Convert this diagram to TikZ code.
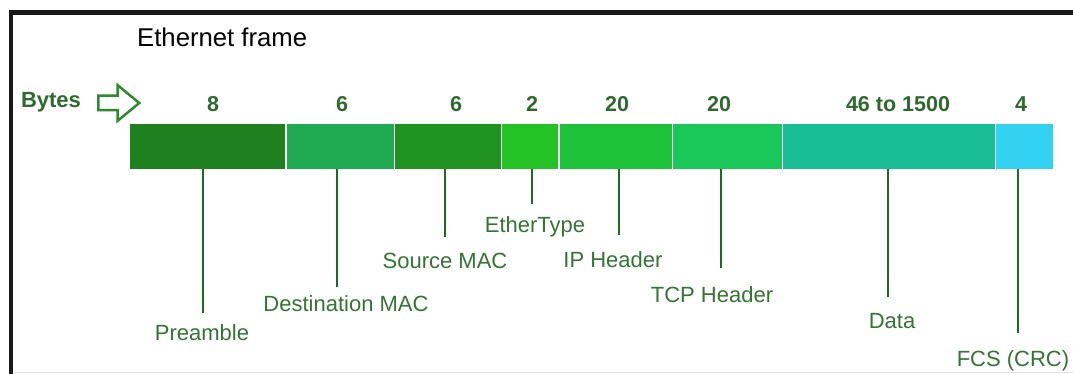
\documentclass[tikz,border=0pt]{standalone}
\usepackage{fontspec}
\setmainfont{Liberation Sans}
\usetikzlibrary{shapes.arrows}

\definecolor{cPre}{HTML}{1E801F}
\definecolor{cDmac}{HTML}{20AA52}
\definecolor{cSmac}{HTML}{1F921F}
\definecolor{cEtype}{HTML}{24C224}
\definecolor{cIp}{HTML}{1EC23A}
\definecolor{cTcp}{HTML}{1AC85A}
\definecolor{cData}{HTML}{1ABE96}
\definecolor{cFcs}{HTML}{34D2F2}
\definecolor{txtgreen}{HTML}{2E6A2E}
\definecolor{lblgreen}{HTML}{347434}
\definecolor{leadgreen}{HTML}{1E6A1E}
\definecolor{arrgreen}{HTML}{2F8A2F}

\tikzset{
  seg/.style={rectangle, draw=none, inner sep=0pt, anchor=north west, minimum height=44.5pt},
  bytenum/.style={anchor=base, inner sep=0pt, text=txtgreen, font=\fontsize{21.5}{24}\selectfont\bfseries},
  fieldlbl/.style={anchor=base, inner sep=0pt, text=lblgreen, font=\fontsize{22}{25}\selectfont},
  lead/.style={draw=leadgreen, line width=2pt},
  border/.style={draw=black!90, line width=4.5pt}
}

\begin{document}
\begin{tikzpicture}[x=1pt, y=-1pt]
  \useasboundingbox (0,0) rectangle (1073,374);
  \fill[white] (0,0) rectangle (1073,374);

  % outer frame
  \draw[border] (11,374) -- (11,12.5) -- (1073,12.5);
  \draw[black!12, line width=1pt] (14,372.5) -- (1073,372.5);

  % title
  \node[anchor=base west, inner sep=0pt, font=\fontsize{25.7}{30}\selectfont] (title) at (137,47) {Ethernet frame};

  % byte counts header
  \node[anchor=base, inner sep=0pt, text=txtgreen, font=\fontsize{22}{25}\selectfont\bfseries] (bytes) at (51,108) {Bytes};
  \node[single arrow, draw=arrgreen, fill=white, line width=2.5pt, inner sep=6pt,
        single arrow head extend=10.5pt, single arrow tip angle=79,
        minimum height=41pt, anchor=west] (barrow) at (97,103) {};

  % frame fields
  \node[seg, fill=cPre,   minimum width=155pt] (pre)   at (130,124) {};
  \node[seg, fill=cDmac,  minimum width=107pt] (dmac)  at (286.5,124) {};
  \node[seg, fill=cSmac,  minimum width=105.5pt] (smac) at (395,124) {};
  \node[seg, fill=cEtype, minimum width=56pt] (etype)  at (502,124) {};
  \node[seg, fill=cIp,    minimum width=111.5pt] (ip)  at (560,124) {};
  \node[seg, fill=cTcp,   minimum width=108.5pt] (tcp) at (673,124) {};
  \node[seg, fill=cData,  minimum width=211.5pt] (data) at (783,124) {};
  \node[seg, fill=cFcs,   minimum width=57pt] (fcs)    at (996,124) {};

  % sizes in bytes
  \node[bytenum] (nPre)   at (213,112) {8};
  \node[bytenum] (nDmac)  at (342,112) {6};
  \node[bytenum] (nSmac)  at (456,112) {6};
  \node[bytenum] (nEtype) at (532,112) {2};
  \node[bytenum] (nIp)    at (617,112) {20};
  \node[bytenum] (nTcp)   at (719,112) {20};
  \node[bytenum] (nData)  at (898,112) {46 to 1500};
  \node[bytenum] (nFcs)   at (1021,112) {4};

  % leader line ends
  \coordinate (ePre)   at (203,313);
  \coordinate (eDmac)  at (337,287);
  \coordinate (eSmac)  at (445,237);
  \coordinate (eEtype) at (532,204);
  \coordinate (eIp)    at (619,235);
  \coordinate (eTcp)   at (721,268);
  \coordinate (eData)  at (888,297);
  \coordinate (eFcs)   at (1018,333);

  \draw[lead] (pre.south -| ePre) -- (ePre);
  \draw[lead] (dmac.south -| eDmac) -- (eDmac);
  \draw[lead] (smac.south -| eSmac) -- (eSmac);
  \draw[lead] (etype.south -| eEtype) -- (eEtype);
  \draw[lead] (ip.south -| eIp) -- (eIp);
  \draw[lead] (tcp.south -| eTcp) -- (eTcp);
  \draw[lead] (data.south -| eData) -- (eData);
  \draw[lead] (fcs.south -| eFcs) -- (eFcs);

  % field names
  \node[fieldlbl] (lPre)   at (202,340) {Preamble};
  \node[fieldlbl] (lDmac)  at (346,311) {Destination MAC};
  \node[fieldlbl] (lSmac)  at (445,268) {Source MAC};
  \node[fieldlbl] (lEtype) at (535,233) {EtherType};
  \node[fieldlbl] (lIp)    at (613,267) {IP Header};
  \node[fieldlbl] (lTcp)   at (712,302) {TCP Header};
  \node[fieldlbl] (lData)  at (892,328) {Data};
  \node[fieldlbl] (lFcs)   at (1013,366) {FCS (CRC)};
\end{tikzpicture}
\end{document}
